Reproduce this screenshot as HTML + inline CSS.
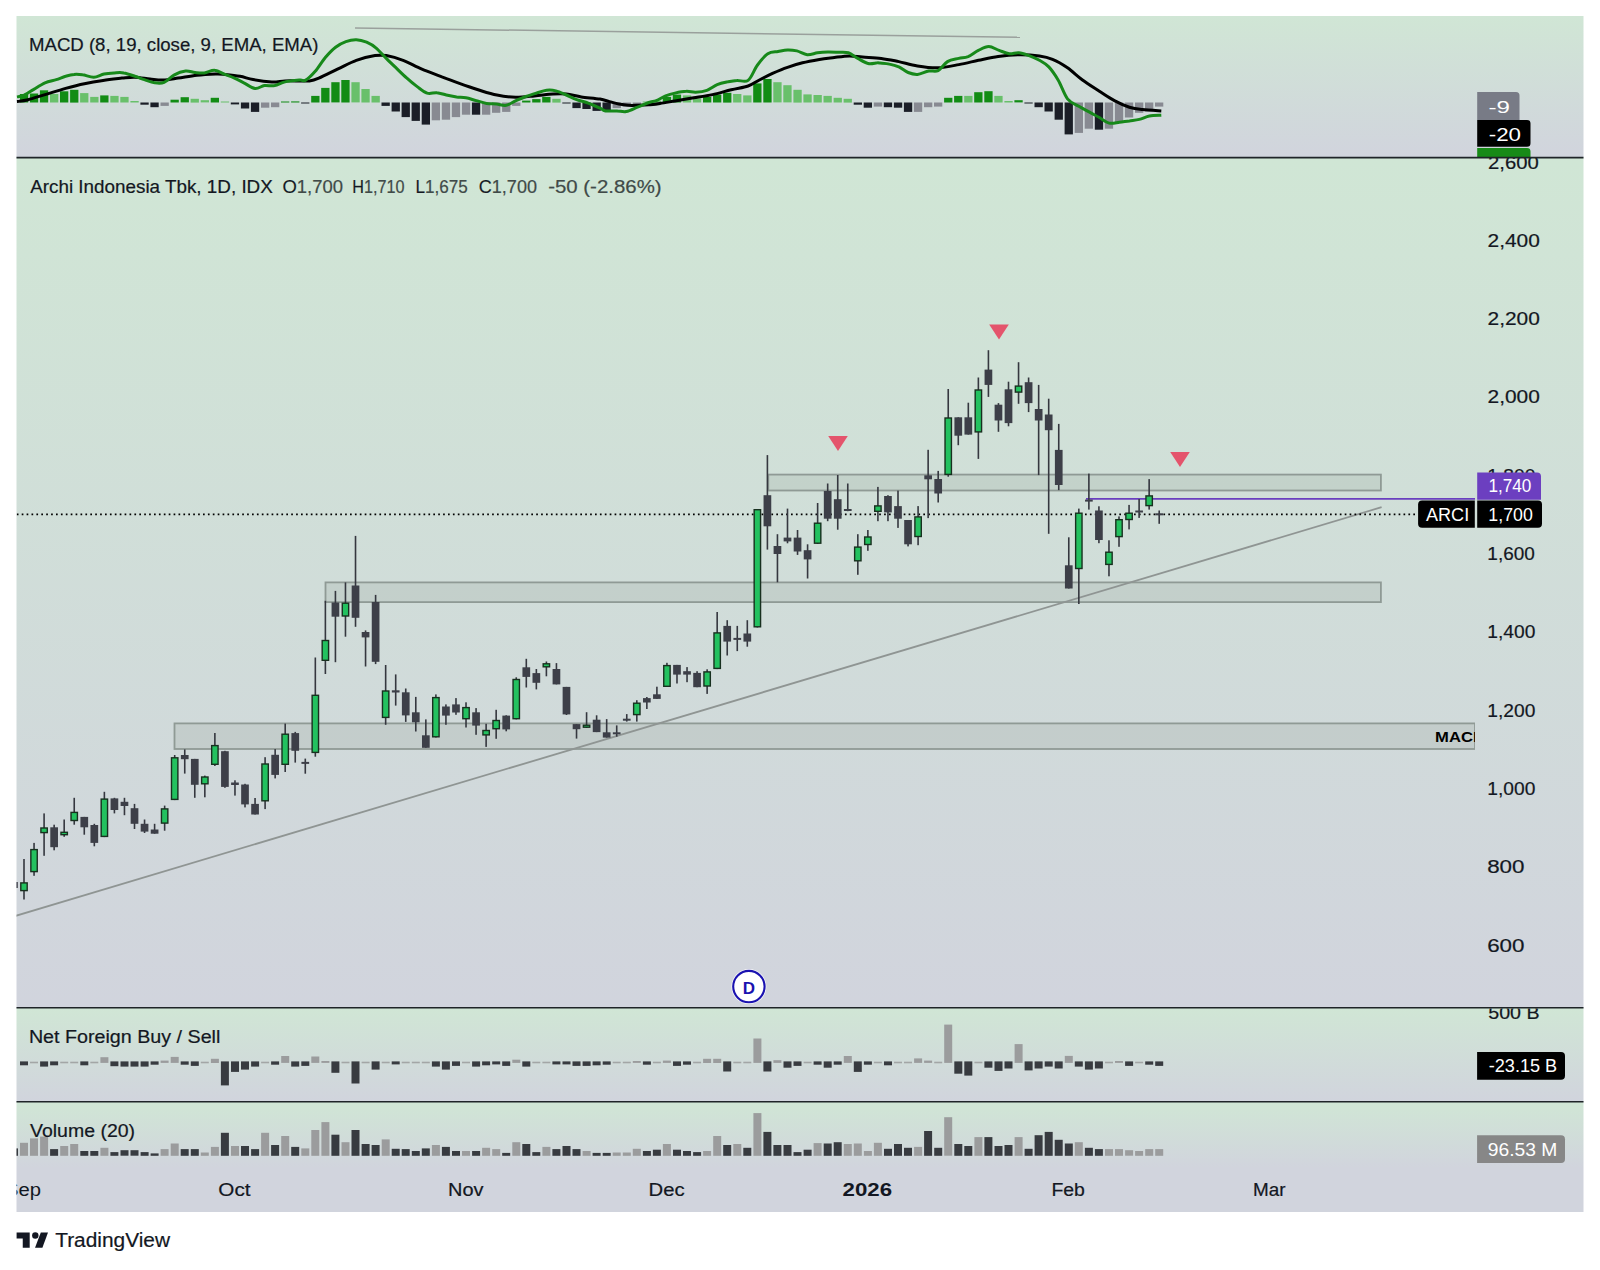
<!DOCTYPE html><html><head><meta charset="utf-8"><style>html,body{margin:0;padding:0;background:#fff;width:1600px;height:1270px;overflow:hidden}svg{display:block}</style></head><body>
<svg width="1600" height="1270" viewBox="0 0 1600 1270" font-family='"Liberation Sans", sans-serif'>
<defs>
<linearGradient id="gm" gradientUnits="userSpaceOnUse" x1="0" y1="16" x2="0" y2="157"><stop offset="0" stop-color="#d0e6d5"/><stop offset="1" stop-color="#d1d4dd"/></linearGradient>
<linearGradient id="gp" gradientUnits="userSpaceOnUse" x1="0" y1="157" x2="0" y2="1008"><stop offset="0" stop-color="#d0e6d5"/><stop offset="1" stop-color="#d1d4dd"/></linearGradient>
<linearGradient id="gn" gradientUnits="userSpaceOnUse" x1="0" y1="1008" x2="0" y2="1102"><stop offset="0" stop-color="#d0e6d5"/><stop offset="1" stop-color="#d1d4dd"/></linearGradient>
<linearGradient id="gv" gradientUnits="userSpaceOnUse" x1="0" y1="1102" x2="0" y2="1168"><stop offset="0" stop-color="#d0e6d5"/><stop offset="1" stop-color="#d1d4dd"/></linearGradient>
<clipPath id="cm"><rect x="16.5" y="16" width="1458.5" height="141"/></clipPath>
<clipPath id="cp"><rect x="16.5" y="157" width="1458.5" height="851"/></clipPath>
<clipPath id="cn"><rect x="16.5" y="1008" width="1458.5" height="94"/></clipPath>
<clipPath id="cv"><rect x="16.5" y="1102" width="1458.5" height="66"/></clipPath>
<clipPath id="cpa"><rect x="16.5" y="157" width="1567.0" height="851"/></clipPath>
</defs>
<rect x="16.5" y="16" width="1567.0" height="141" fill="url(#gm)"/>
<rect x="16.5" y="157" width="1567.0" height="851" fill="url(#gp)"/>
<rect x="16.5" y="1008" width="1567.0" height="94" fill="url(#gn)"/>
<rect x="16.5" y="1102" width="1567.0" height="66" fill="url(#gv)"/>
<rect x="16.5" y="1168" width="1567.0" height="44" fill="#d1d4dd"/>
<g clip-path="url(#cm)">
<line x1="355" y1="28" x2="1020" y2="37.2" stroke="#9aa09c" stroke-width="1.5"/>
<rect x="19.9" y="94.0" width="8.3" height="8.5" fill="#128c14"/>
<rect x="29.9" y="93.5" width="8.3" height="9.0" fill="#128c14"/>
<rect x="39.9" y="90.3" width="8.3" height="12.2" fill="#128c14"/>
<rect x="50.0" y="94.0" width="8.3" height="8.5" fill="#69c06b"/>
<rect x="60.0" y="91.3" width="8.3" height="11.2" fill="#128c14"/>
<rect x="70.1" y="89.8" width="8.3" height="12.8" fill="#128c14"/>
<rect x="80.1" y="93.1" width="8.3" height="9.4" fill="#69c06b"/>
<rect x="90.2" y="96.9" width="8.3" height="5.6" fill="#69c06b"/>
<rect x="100.2" y="95.4" width="8.3" height="7.1" fill="#128c14"/>
<rect x="110.3" y="95.9" width="8.3" height="6.6" fill="#69c06b"/>
<rect x="120.3" y="96.9" width="8.3" height="5.6" fill="#69c06b"/>
<rect x="130.4" y="101.0" width="8.3" height="1.5" fill="#69c06b"/>
<rect x="140.4" y="102.5" width="8.3" height="2.2" fill="#1b1e27"/>
<rect x="150.4" y="102.5" width="8.3" height="4.7" fill="#1b1e27"/>
<rect x="160.5" y="102.5" width="8.3" height="3.4" fill="#888a92"/>
<rect x="170.5" y="99.7" width="8.3" height="2.8" fill="#128c14"/>
<rect x="180.6" y="97.2" width="8.3" height="5.2" fill="#128c14"/>
<rect x="190.6" y="98.8" width="8.3" height="3.8" fill="#69c06b"/>
<rect x="200.7" y="100.2" width="8.3" height="2.2" fill="#69c06b"/>
<rect x="210.7" y="97.8" width="8.3" height="4.7" fill="#128c14"/>
<rect x="220.8" y="101.5" width="8.3" height="1.0" fill="#69c06b"/>
<rect x="230.8" y="102.5" width="8.3" height="1.9" fill="#1b1e27"/>
<rect x="240.9" y="102.5" width="8.3" height="6.0" fill="#1b1e27"/>
<rect x="250.9" y="102.5" width="8.3" height="9.4" fill="#1b1e27"/>
<rect x="261.0" y="102.5" width="8.3" height="5.2" fill="#888a92"/>
<rect x="271.0" y="102.5" width="8.3" height="4.7" fill="#888a92"/>
<rect x="281.0" y="101.5" width="8.3" height="1.0" fill="#128c14"/>
<rect x="291.1" y="101.4" width="8.3" height="1.1" fill="#128c14"/>
<rect x="301.1" y="102.5" width="8.3" height="1.0" fill="#1b1e27"/>
<rect x="311.2" y="95.9" width="8.3" height="6.6" fill="#128c14"/>
<rect x="321.2" y="87.9" width="8.3" height="14.6" fill="#128c14"/>
<rect x="331.3" y="82.2" width="8.3" height="20.2" fill="#128c14"/>
<rect x="341.3" y="80.0" width="8.3" height="22.5" fill="#128c14"/>
<rect x="351.4" y="82.2" width="8.3" height="20.2" fill="#69c06b"/>
<rect x="361.4" y="89.0" width="8.3" height="13.5" fill="#69c06b"/>
<rect x="371.5" y="95.9" width="8.3" height="6.6" fill="#69c06b"/>
<rect x="381.5" y="102.5" width="8.3" height="3.4" fill="#1b1e27"/>
<rect x="391.6" y="102.5" width="8.3" height="9.0" fill="#1b1e27"/>
<rect x="401.6" y="102.5" width="8.3" height="14.6" fill="#1b1e27"/>
<rect x="411.6" y="102.5" width="8.3" height="18.4" fill="#1b1e27"/>
<rect x="421.7" y="102.5" width="8.3" height="22.1" fill="#1b1e27"/>
<rect x="431.7" y="102.5" width="8.3" height="17.8" fill="#888a92"/>
<rect x="441.8" y="102.5" width="8.3" height="17.2" fill="#888a92"/>
<rect x="451.8" y="102.5" width="8.3" height="14.6" fill="#888a92"/>
<rect x="461.9" y="102.5" width="8.3" height="12.2" fill="#888a92"/>
<rect x="471.9" y="102.5" width="8.3" height="12.2" fill="#1b1e27"/>
<rect x="482.0" y="102.5" width="8.3" height="12.2" fill="#888a92"/>
<rect x="492.0" y="102.5" width="8.3" height="10.3" fill="#888a92"/>
<rect x="502.1" y="102.5" width="8.3" height="9.4" fill="#888a92"/>
<rect x="512.1" y="102.5" width="8.3" height="3.4" fill="#888a92"/>
<rect x="522.1" y="100.6" width="8.3" height="1.9" fill="#128c14"/>
<rect x="532.2" y="99.1" width="8.3" height="3.4" fill="#128c14"/>
<rect x="542.2" y="96.9" width="8.3" height="5.6" fill="#128c14"/>
<rect x="552.3" y="98.8" width="8.3" height="3.8" fill="#69c06b"/>
<rect x="562.3" y="102.5" width="8.3" height="1.0" fill="#1b1e27"/>
<rect x="572.4" y="102.5" width="8.3" height="5.6" fill="#1b1e27"/>
<rect x="582.4" y="102.5" width="8.3" height="6.5" fill="#1b1e27"/>
<rect x="592.5" y="102.5" width="8.3" height="8.4" fill="#1b1e27"/>
<rect x="602.5" y="102.5" width="8.3" height="8.5" fill="#1b1e27"/>
<rect x="612.6" y="102.5" width="8.3" height="5.6" fill="#888a92"/>
<rect x="622.6" y="102.5" width="8.3" height="4.1" fill="#888a92"/>
<rect x="632.7" y="102.5" width="8.3" height="2.8" fill="#888a92"/>
<rect x="642.7" y="101.5" width="8.3" height="1.0" fill="#69c06b"/>
<rect x="652.7" y="100.6" width="8.3" height="1.9" fill="#69c06b"/>
<rect x="662.8" y="96.9" width="8.3" height="5.6" fill="#128c14"/>
<rect x="672.8" y="94.6" width="8.3" height="7.9" fill="#128c14"/>
<rect x="682.9" y="95.4" width="8.3" height="7.1" fill="#69c06b"/>
<rect x="692.9" y="98.4" width="8.3" height="4.1" fill="#69c06b"/>
<rect x="703.0" y="96.9" width="8.3" height="5.6" fill="#128c14"/>
<rect x="713.0" y="94.6" width="8.3" height="7.9" fill="#128c14"/>
<rect x="723.1" y="92.8" width="8.3" height="9.8" fill="#128c14"/>
<rect x="733.1" y="94.0" width="8.3" height="8.5" fill="#69c06b"/>
<rect x="743.2" y="95.4" width="8.3" height="7.1" fill="#69c06b"/>
<rect x="753.2" y="83.4" width="8.3" height="19.1" fill="#128c14"/>
<rect x="763.3" y="79.0" width="8.3" height="23.5" fill="#128c14"/>
<rect x="773.3" y="82.2" width="8.3" height="20.2" fill="#69c06b"/>
<rect x="783.3" y="85.2" width="8.3" height="17.2" fill="#69c06b"/>
<rect x="793.4" y="89.8" width="8.3" height="12.8" fill="#69c06b"/>
<rect x="803.4" y="94.4" width="8.3" height="8.1" fill="#69c06b"/>
<rect x="813.5" y="95.0" width="8.3" height="7.5" fill="#69c06b"/>
<rect x="823.5" y="95.9" width="8.3" height="6.6" fill="#69c06b"/>
<rect x="833.6" y="97.8" width="8.3" height="4.7" fill="#69c06b"/>
<rect x="843.6" y="98.8" width="8.3" height="3.8" fill="#69c06b"/>
<rect x="853.7" y="102.5" width="8.3" height="2.2" fill="#1b1e27"/>
<rect x="863.7" y="102.5" width="8.3" height="5.2" fill="#1b1e27"/>
<rect x="873.8" y="102.5" width="8.3" height="4.1" fill="#888a92"/>
<rect x="883.8" y="102.5" width="8.3" height="4.7" fill="#1b1e27"/>
<rect x="893.9" y="102.5" width="8.3" height="5.2" fill="#1b1e27"/>
<rect x="903.9" y="102.5" width="8.3" height="9.4" fill="#1b1e27"/>
<rect x="913.9" y="102.5" width="8.3" height="9.4" fill="#888a92"/>
<rect x="924.0" y="102.5" width="8.3" height="4.7" fill="#888a92"/>
<rect x="934.0" y="102.5" width="8.3" height="4.1" fill="#888a92"/>
<rect x="944.1" y="97.8" width="8.3" height="4.7" fill="#128c14"/>
<rect x="954.1" y="95.9" width="8.3" height="6.6" fill="#128c14"/>
<rect x="964.2" y="95.9" width="8.3" height="6.6" fill="#69c06b"/>
<rect x="974.2" y="92.2" width="8.3" height="10.3" fill="#128c14"/>
<rect x="984.3" y="91.2" width="8.3" height="11.2" fill="#128c14"/>
<rect x="994.3" y="95.9" width="8.3" height="6.6" fill="#69c06b"/>
<rect x="1004.4" y="101.0" width="8.3" height="1.5" fill="#69c06b"/>
<rect x="1014.4" y="100.2" width="8.3" height="2.2" fill="#128c14"/>
<rect x="1024.4" y="102.5" width="8.3" height="1.0" fill="#1b1e27"/>
<rect x="1034.5" y="102.5" width="8.3" height="4.7" fill="#1b1e27"/>
<rect x="1044.5" y="102.5" width="8.3" height="9.0" fill="#1b1e27"/>
<rect x="1054.6" y="102.5" width="8.3" height="17.2" fill="#1b1e27"/>
<rect x="1064.6" y="102.5" width="8.3" height="31.9" fill="#1b1e27"/>
<rect x="1074.7" y="102.5" width="8.3" height="30.4" fill="#888a92"/>
<rect x="1084.7" y="102.5" width="8.3" height="26.2" fill="#888a92"/>
<rect x="1094.8" y="102.5" width="8.3" height="27.2" fill="#1b1e27"/>
<rect x="1104.8" y="102.5" width="8.3" height="26.2" fill="#888a92"/>
<rect x="1114.9" y="102.5" width="8.3" height="19.7" fill="#888a92"/>
<rect x="1124.9" y="102.5" width="8.3" height="15.0" fill="#888a92"/>
<rect x="1135.0" y="102.5" width="8.3" height="10.3" fill="#888a92"/>
<rect x="1145.0" y="102.5" width="8.3" height="9.0" fill="#888a92"/>
<rect x="1155.0" y="102.5" width="8.3" height="4.1" fill="#888a92"/>
<path d="M16.9,101.6 C18.8,101.3 23.1,100.9 28.1,99.7 C33.1,98.4 40.6,95.9 46.9,94.1 C53.1,92.2 59.4,90.2 65.6,88.4 C71.9,86.7 78.1,85.1 84.4,83.8 C90.6,82.4 96.9,81.3 103.1,80.4 C109.4,79.4 116.6,78.7 121.9,78.1 C127.2,77.6 130.3,77.0 135.0,77.2 C139.7,77.3 145.3,78.6 150.0,79.1 C154.7,79.5 158.4,80.2 163.1,80.0 C167.8,79.8 172.5,78.9 178.1,78.1 C183.8,77.3 190.6,76.0 196.9,75.3 C203.1,74.6 210.9,74.2 215.6,74.0 C220.3,73.8 220.9,74.0 225.0,74.4 C229.1,74.8 235.3,75.4 240.0,76.3 C244.7,77.1 247.8,78.7 253.1,79.6 C258.4,80.6 266.6,81.7 271.9,81.9 C277.2,82.1 280.3,81.1 285.0,80.9 C289.7,80.8 295.9,80.9 300.0,80.9 C304.1,80.9 306.3,81.4 309.4,80.9 C312.5,80.5 314.1,80.1 318.8,78.1 C323.4,76.2 331.3,72.1 337.5,69.1 C343.8,66.2 350.0,62.6 356.3,60.3 C362.5,58.1 370.0,56.4 375.0,55.6 C380.0,54.8 381.6,54.8 386.3,55.6 C390.9,56.4 397.2,58.1 403.1,60.3 C409.1,62.6 415.6,66.5 421.9,69.1 C428.1,71.8 434.4,73.9 440.6,76.3 C446.9,78.6 453.1,81.1 459.4,83.4 C465.6,85.6 471.9,87.8 478.1,89.8 C484.4,91.7 490.6,93.8 496.9,95.0 C503.1,96.3 509.4,97.1 515.6,97.3 C521.9,97.4 528.1,96.5 534.4,95.9 C540.6,95.4 547.8,94.4 553.1,94.1 C558.4,93.8 561.6,93.6 566.3,94.1 C570.9,94.5 575.6,96.0 581.3,96.9 C586.9,97.7 595.3,98.3 600.0,99.1 C604.7,99.9 606.3,100.8 609.4,101.6 C612.5,102.4 615.6,103.4 618.8,104.0 C621.9,104.6 625.0,105.1 628.1,105.3 C631.3,105.5 634.1,105.4 637.5,105.3 C640.9,105.2 645.0,105.1 648.8,104.8 C652.5,104.4 655.6,104.1 660.0,103.4 C664.4,102.8 669.4,101.9 675.0,101.0 C680.6,100.1 687.5,98.9 693.8,97.8 C700.0,96.8 706.3,96.0 712.5,94.6 C718.8,93.3 725.3,91.2 731.3,89.8 C737.2,88.3 743.4,87.6 748.1,86.0 C752.8,84.4 755.3,82.1 759.4,80.0 C763.4,77.9 767.8,75.6 772.5,73.4 C777.2,71.3 782.5,69.0 787.5,67.3 C792.5,65.5 797.2,64.1 802.5,62.8 C807.8,61.4 814.1,60.3 819.4,59.4 C824.7,58.5 829.4,58.1 834.4,57.5 C839.4,56.9 844.7,56.1 849.4,56.0 C854.1,55.9 857.2,56.7 862.5,57.1 C867.8,57.5 875.2,57.7 881.3,58.4 C887.3,59.2 892.7,60.4 898.8,61.6 C904.8,62.9 910.9,64.9 917.5,65.9 C924.1,67.0 931.3,68.0 938.1,67.8 C945.0,67.6 952.0,65.9 958.8,64.6 C965.5,63.4 971.9,61.7 978.4,60.3 C985.0,59.0 991.4,57.5 998.1,56.6 C1004.8,55.6 1011.9,54.8 1018.8,54.7 C1025.6,54.6 1033.8,55.2 1039.4,56.0 C1045.0,56.8 1047.8,57.4 1052.5,59.4 C1057.2,61.3 1062.5,64.4 1067.5,67.8 C1072.5,71.3 1077.2,76.1 1082.5,80.0 C1087.8,83.9 1094.1,87.8 1099.4,91.3 C1104.7,94.7 1109.4,98.0 1114.4,100.6 C1119.4,103.3 1124.7,105.7 1129.4,107.2 C1134.1,108.7 1137.2,109.0 1142.5,109.6 C1147.8,110.3 1158.1,110.7 1161.3,110.9" fill="none" stroke="#000" stroke-width="3" stroke-linejoin="round"/>
<path d="M16.9,96.9 C18.1,96.6 21.6,96.3 24.4,95.0 C27.2,93.8 30.3,91.4 33.8,89.4 C37.2,87.3 41.3,84.4 45.0,82.8 C48.8,81.2 52.8,80.7 56.3,79.6 C59.7,78.5 62.7,77.1 65.6,76.3 C68.6,75.4 71.3,74.6 74.1,74.4 C76.9,74.1 79.2,74.3 82.5,74.8 C85.8,75.2 90.2,77.3 93.8,77.2 C97.3,77.1 100.6,74.7 104.1,74.0 C107.5,73.3 111.1,73.1 114.4,72.9 C117.7,72.7 120.3,72.3 123.8,72.9 C127.2,73.4 131.6,75.1 135.0,76.3 C138.4,77.4 141.1,78.5 144.4,79.6 C147.7,80.7 151.4,82.3 154.7,82.8 C158.0,83.3 160.8,83.8 164.1,82.4 C167.3,81.1 170.8,76.7 174.4,74.8 C178.0,72.8 182.2,71.4 185.6,71.0 C189.1,70.6 191.9,72.2 195.0,72.5 C198.1,72.8 201.1,73.3 204.4,72.9 C207.7,72.5 211.3,70.0 214.7,70.3 C218.1,70.5 221.7,73.1 225.0,74.4 C228.3,75.7 231.3,76.7 234.4,78.1 C237.5,79.5 240.3,81.1 243.8,82.8 C247.2,84.5 251.6,88.0 255.0,88.4 C258.4,88.9 261.1,86.1 264.4,85.6 C267.7,85.2 271.3,86.3 274.7,85.6 C278.1,85.0 280.8,82.8 285.0,81.9 C289.2,80.9 296.6,80.3 300.0,80.0 C303.4,79.8 302.8,81.8 305.3,80.4 C307.8,79.0 311.7,75.4 315.0,71.6 C318.3,67.8 321.9,61.6 325.3,57.5 C328.8,53.4 332.2,49.8 335.6,47.2 C339.1,44.5 342.5,42.8 345.9,41.6 C349.4,40.3 352.8,39.6 356.3,39.7 C359.7,39.8 363.3,40.8 366.6,42.1 C369.8,43.5 372.7,45.0 375.9,47.8 C379.2,50.5 382.8,55.0 386.3,58.4 C389.7,61.9 393.1,65.1 396.6,68.4 C400.0,71.7 403.4,75.1 406.9,78.1 C410.3,81.2 413.8,84.1 417.2,86.6 C420.6,89.1 423.8,92.1 427.1,93.1 C430.4,94.2 433.7,92.4 436.9,92.8 C440.1,93.1 443.0,94.3 446.3,95.0 C449.5,95.7 453.3,96.4 456.6,96.9 C459.8,97.3 462.7,97.2 465.9,97.8 C469.2,98.4 472.8,99.7 476.3,100.6 C479.7,101.6 483.2,102.9 486.6,103.4 C489.9,104.0 493.2,103.7 496.5,104.0 C499.8,104.3 503.0,105.9 506.3,105.3 C509.5,104.8 512.7,102.1 516.0,100.6 C519.3,99.2 522.6,97.8 525.9,96.5 C529.3,95.3 532.8,94.2 536.3,93.1 C539.7,92.1 543.3,90.7 546.6,90.3 C549.8,89.9 552.7,90.1 555.9,90.9 C559.2,91.7 562.8,93.5 566.3,95.0 C569.7,96.5 573.2,98.4 576.6,99.7 C579.9,100.9 582.6,101.1 586.5,102.5 C590.4,103.9 596.8,106.7 600.0,108.1 C603.2,109.5 602.8,110.5 605.6,110.9 C608.4,111.4 613.4,110.8 616.9,110.9 C620.3,111.0 622.8,112.1 626.3,111.5 C629.7,110.9 633.8,108.7 637.5,107.2 C641.3,105.7 645.6,103.6 648.8,102.5 C651.9,101.4 653.4,101.7 656.3,100.6 C659.1,99.5 662.5,97.2 665.6,95.9 C668.8,94.7 671.6,93.9 675.0,93.1 C678.4,92.3 682.8,91.4 686.3,91.3 C689.7,91.1 692.2,92.3 695.6,92.2 C699.1,92.0 703.3,91.6 706.9,90.3 C710.5,89.1 713.8,86.1 717.2,84.7 C720.6,83.3 724.2,82.6 727.5,81.9 C730.8,81.2 733.4,80.6 736.9,80.4 C740.3,80.1 744.7,82.9 748.1,80.4 C751.6,77.8 754.2,69.4 757.5,65.0 C760.8,60.6 764.4,56.0 767.8,53.8 C771.3,51.5 774.8,52.1 778.1,51.5 C781.4,50.9 784.4,50.1 787.5,50.0 C790.6,49.9 793.6,50.2 796.9,50.9 C800.2,51.7 803.8,54.4 807.2,54.7 C810.6,55.0 814.1,53.3 817.5,52.8 C820.9,52.3 824.4,52.0 827.8,51.9 C831.3,51.8 834.7,52.1 838.1,52.3 C841.6,52.4 845.2,51.8 848.4,52.8 C851.7,53.8 854.5,56.7 857.8,58.4 C861.1,60.2 864.8,62.8 868.1,63.5 C871.4,64.2 875.5,62.8 877.5,62.8 C879.5,62.7 878.0,62.9 880.0,63.1 C882.0,63.3 886.3,63.4 889.4,64.1 C892.5,64.7 895.6,65.5 898.8,66.9 C901.9,68.3 905.0,71.3 908.1,72.5 C911.3,73.8 914.1,74.6 917.5,74.4 C920.9,74.1 925.3,71.6 928.8,71.0 C932.2,70.4 935.0,72.2 938.1,70.6 C941.3,69.1 944.1,63.7 947.5,61.6 C950.9,59.6 955.3,59.3 958.8,58.4 C962.2,57.6 964.8,57.9 968.1,56.6 C971.4,55.2 975.0,52.0 978.4,50.4 C981.9,48.7 985.3,46.6 988.8,46.6 C992.2,46.6 995.6,49.2 999.1,50.4 C1002.5,51.6 1006.1,53.3 1009.4,53.8 C1012.7,54.2 1015.5,52.5 1018.8,52.8 C1022.0,53.1 1025.6,54.4 1029.1,55.6 C1032.5,56.9 1036.1,58.4 1039.4,60.3 C1042.7,62.2 1045.6,63.6 1048.8,66.9 C1051.9,70.2 1055.0,74.7 1058.1,80.0 C1061.3,85.3 1064.1,94.4 1067.5,98.8 C1070.9,103.1 1075.2,104.1 1078.8,106.3 C1082.3,108.4 1085.6,110.0 1089.1,111.9 C1092.5,113.8 1096.0,115.6 1099.4,117.5 C1102.7,119.4 1105.8,122.3 1109.1,123.1 C1112.5,123.9 1116.1,122.6 1119.4,122.2 C1122.8,121.8 1126.1,121.3 1129.4,120.9 C1132.7,120.4 1136.0,120.2 1139.3,119.4 C1142.7,118.6 1145.8,116.7 1149.4,116.0 C1153.1,115.3 1159.3,115.4 1161.3,115.3" fill="none" stroke="#17891a" stroke-width="3" stroke-linejoin="round"/>
</g>
<text x="28.98" y="50.7" font-size="18.3" fill="#131722" stroke="#131722" stroke-width="0.2" textLength="289.50" lengthAdjust="spacingAndGlyphs">MACD (8, 19, close, 9, EMA, EMA)</text>
<g clip-path="url(#cp)">
<rect x="768.3" y="474.6" width="612.6" height="15.9" fill="rgba(105,120,112,0.13)" stroke="#8f9a95" stroke-width="1.8"/>
<rect x="325.5" y="582.4" width="1055.4" height="19.7" fill="rgba(105,120,112,0.13)" stroke="#8f9a95" stroke-width="1.8"/>
<rect x="174.5" y="723.4" width="1300.5" height="25.6" fill="rgba(105,120,112,0.13)" stroke="#8f9a95" stroke-width="1.8"/>
<svg x="0" y="0" width="1475" height="1008" overflow="hidden"><text x="1435.11" y="742.3" font-size="14.6" font-weight="bold" fill="#000" textLength="49.78" lengthAdjust="spacingAndGlyphs">MACD</text></svg>
<line x1="10" y1="917.5" x2="1381.6" y2="507.2" stroke="#8f9593" stroke-width="1.8"/>
<line x1="16.8" y1="514.4" x2="1418" y2="514.4" stroke="#000" stroke-width="1.7" stroke-dasharray="1.7 3.2"/>
<line x1="1086" y1="498.9" x2="1477" y2="498.9" stroke="#6a3fbf" stroke-width="1.7"/>
<rect x="13.15" y="880.0" width="1.6" height="10.0" fill="#35373f"/>
<rect x="10.10" y="882.0" width="7.7" height="6.0" fill="#3d3f48"/>
<rect x="23.20" y="859.0" width="1.6" height="40.5" fill="#35373f"/>
<rect x="20.10" y="882.2" width="7.8" height="9.1" fill="#18301f"/>
<rect x="21.50" y="883.6" width="5.0" height="6.3" fill="#23c15f"/>
<rect x="33.25" y="842.9" width="1.6" height="32.9" fill="#35373f"/>
<rect x="30.15" y="848.9" width="7.8" height="23.4" fill="#18301f"/>
<rect x="31.55" y="850.3" width="5.0" height="20.6" fill="#23c15f"/>
<rect x="43.29" y="813.4" width="1.6" height="42.4" fill="#35373f"/>
<rect x="40.19" y="827.3" width="7.8" height="6.0" fill="#18301f"/>
<rect x="41.59" y="828.7" width="5.0" height="3.2" fill="#23c15f"/>
<rect x="53.34" y="824.7" width="1.6" height="25.6" fill="#35373f"/>
<rect x="50.29" y="827.3" width="7.7" height="19.9" fill="#3d3f48"/>
<rect x="63.38" y="819.5" width="1.6" height="17.3" fill="#35373f"/>
<rect x="60.28" y="831.6" width="7.8" height="3.8" fill="#18301f"/>
<rect x="61.68" y="833.0" width="5.0" height="1.0" fill="#23c15f"/>
<rect x="73.43" y="797.8" width="1.6" height="26.9" fill="#35373f"/>
<rect x="70.33" y="811.7" width="7.8" height="9.5" fill="#18301f"/>
<rect x="71.73" y="813.1" width="5.0" height="6.7" fill="#23c15f"/>
<rect x="83.48" y="816.9" width="1.6" height="17.8" fill="#35373f"/>
<rect x="80.43" y="816.9" width="7.7" height="10.4" fill="#3d3f48"/>
<rect x="93.52" y="823.8" width="1.6" height="22.5" fill="#35373f"/>
<rect x="90.47" y="825.0" width="7.7" height="17.9" fill="#3d3f48"/>
<rect x="103.57" y="791.8" width="1.6" height="45.3" fill="#35373f"/>
<rect x="100.47" y="798.4" width="7.8" height="38.7" fill="#18301f"/>
<rect x="101.87" y="799.8" width="5.0" height="35.9" fill="#23c15f"/>
<rect x="113.61" y="797.8" width="1.6" height="15.6" fill="#35373f"/>
<rect x="110.56" y="798.4" width="7.7" height="11.6" fill="#3d3f48"/>
<rect x="123.66" y="797.8" width="1.6" height="17.4" fill="#35373f"/>
<rect x="120.61" y="801.8" width="7.7" height="4.2" fill="#3d3f48"/>
<rect x="133.71" y="803.9" width="1.6" height="25.1" fill="#35373f"/>
<rect x="130.66" y="808.2" width="7.7" height="15.6" fill="#3d3f48"/>
<rect x="143.75" y="819.5" width="1.6" height="13.5" fill="#35373f"/>
<rect x="140.70" y="823.8" width="7.7" height="7.8" fill="#3d3f48"/>
<rect x="153.80" y="823.8" width="1.6" height="9.9" fill="#35373f"/>
<rect x="150.75" y="829.5" width="7.7" height="4.2" fill="#3d3f48"/>
<rect x="163.84" y="805.6" width="1.6" height="25.1" fill="#35373f"/>
<rect x="160.74" y="808.2" width="7.8" height="15.6" fill="#18301f"/>
<rect x="162.14" y="809.6" width="5.0" height="12.8" fill="#23c15f"/>
<rect x="173.89" y="755.0" width="1.6" height="45.1" fill="#35373f"/>
<rect x="170.79" y="757.1" width="7.8" height="43.0" fill="#18301f"/>
<rect x="172.19" y="758.5" width="5.0" height="40.2" fill="#23c15f"/>
<rect x="183.94" y="749.4" width="1.6" height="24.2" fill="#35373f"/>
<rect x="180.89" y="755.0" width="7.7" height="4.2" fill="#3d3f48"/>
<rect x="193.98" y="758.9" width="1.6" height="38.9" fill="#35373f"/>
<rect x="190.93" y="758.9" width="7.7" height="25.9" fill="#3d3f48"/>
<rect x="204.03" y="775.6" width="1.6" height="21.7" fill="#35373f"/>
<rect x="200.93" y="776.3" width="7.8" height="8.2" fill="#18301f"/>
<rect x="202.33" y="777.7" width="5.0" height="5.4" fill="#23c15f"/>
<rect x="214.07" y="733.0" width="1.6" height="33.0" fill="#35373f"/>
<rect x="210.97" y="744.9" width="7.8" height="20.1" fill="#18301f"/>
<rect x="212.37" y="746.3" width="5.0" height="17.3" fill="#23c15f"/>
<rect x="224.12" y="750.8" width="1.6" height="37.0" fill="#35373f"/>
<rect x="221.07" y="751.2" width="7.7" height="35.7" fill="#3d3f48"/>
<rect x="234.17" y="780.3" width="1.6" height="15.3" fill="#35373f"/>
<rect x="231.12" y="782.5" width="7.7" height="2.5" fill="#3d3f48"/>
<rect x="244.21" y="783.8" width="1.6" height="23.6" fill="#35373f"/>
<rect x="241.16" y="784.5" width="7.7" height="19.9" fill="#3d3f48"/>
<rect x="254.26" y="798.0" width="1.6" height="16.5" fill="#35373f"/>
<rect x="251.21" y="803.9" width="7.7" height="10.6" fill="#3d3f48"/>
<rect x="264.30" y="757.2" width="1.6" height="51.9" fill="#35373f"/>
<rect x="261.20" y="763.3" width="7.8" height="38.2" fill="#18301f"/>
<rect x="262.60" y="764.7" width="5.0" height="35.4" fill="#23c15f"/>
<rect x="274.35" y="749.1" width="1.6" height="29.3" fill="#35373f"/>
<rect x="271.30" y="754.8" width="7.7" height="20.1" fill="#3d3f48"/>
<rect x="284.40" y="723.6" width="1.6" height="48.4" fill="#35373f"/>
<rect x="281.30" y="733.5" width="7.8" height="31.5" fill="#18301f"/>
<rect x="282.70" y="734.9" width="5.0" height="28.7" fill="#23c15f"/>
<rect x="294.44" y="731.9" width="1.6" height="30.7" fill="#35373f"/>
<rect x="291.39" y="733.1" width="7.7" height="17.7" fill="#3d3f48"/>
<rect x="304.49" y="758.6" width="1.6" height="15.1" fill="#35373f"/>
<rect x="301.44" y="761.9" width="7.7" height="2.0" fill="#3d3f48"/>
<rect x="314.53" y="657.5" width="1.6" height="99.2" fill="#35373f"/>
<rect x="311.43" y="694.6" width="7.8" height="58.5" fill="#18301f"/>
<rect x="312.83" y="696.0" width="5.0" height="55.7" fill="#23c15f"/>
<rect x="324.58" y="600.8" width="1.6" height="73.2" fill="#35373f"/>
<rect x="321.48" y="639.8" width="7.8" height="21.2" fill="#18301f"/>
<rect x="322.88" y="641.2" width="5.0" height="18.4" fill="#23c15f"/>
<rect x="334.63" y="590.9" width="1.6" height="71.3" fill="#35373f"/>
<rect x="331.58" y="602.5" width="7.7" height="14.2" fill="#3d3f48"/>
<rect x="344.67" y="582.4" width="1.6" height="54.3" fill="#35373f"/>
<rect x="341.57" y="602.5" width="7.8" height="14.2" fill="#18301f"/>
<rect x="342.97" y="603.9" width="5.0" height="11.4" fill="#23c15f"/>
<rect x="354.72" y="535.9" width="1.6" height="90.9" fill="#35373f"/>
<rect x="351.67" y="585.5" width="7.7" height="32.3" fill="#3d3f48"/>
<rect x="364.76" y="630.4" width="1.6" height="36.1" fill="#35373f"/>
<rect x="361.71" y="632.0" width="7.7" height="5.4" fill="#3d3f48"/>
<rect x="374.81" y="594.9" width="1.6" height="69.2" fill="#35373f"/>
<rect x="371.76" y="602.0" width="7.7" height="59.8" fill="#3d3f48"/>
<rect x="384.86" y="665.0" width="1.6" height="59.8" fill="#35373f"/>
<rect x="381.76" y="690.3" width="7.8" height="27.8" fill="#18301f"/>
<rect x="383.16" y="691.7" width="5.0" height="25.0" fill="#23c15f"/>
<rect x="394.90" y="674.4" width="1.6" height="31.2" fill="#35373f"/>
<rect x="391.85" y="690.3" width="7.7" height="2.2" fill="#3d3f48"/>
<rect x="404.95" y="688.5" width="1.6" height="33.4" fill="#35373f"/>
<rect x="401.90" y="692.3" width="7.7" height="23.1" fill="#3d3f48"/>
<rect x="414.99" y="696.9" width="1.6" height="34.6" fill="#35373f"/>
<rect x="411.94" y="712.3" width="7.7" height="10.0" fill="#3d3f48"/>
<rect x="425.04" y="719.4" width="1.6" height="28.4" fill="#35373f"/>
<rect x="421.99" y="735.3" width="7.7" height="12.5" fill="#3d3f48"/>
<rect x="435.09" y="694.4" width="1.6" height="43.1" fill="#35373f"/>
<rect x="431.99" y="696.9" width="7.8" height="40.6" fill="#18301f"/>
<rect x="433.39" y="698.3" width="5.0" height="37.8" fill="#23c15f"/>
<rect x="445.13" y="704.4" width="1.6" height="20.4" fill="#35373f"/>
<rect x="442.08" y="706.5" width="7.7" height="9.1" fill="#3d3f48"/>
<rect x="455.18" y="698.1" width="1.6" height="16.7" fill="#35373f"/>
<rect x="452.13" y="704.4" width="7.7" height="8.1" fill="#3d3f48"/>
<rect x="465.22" y="702.3" width="1.6" height="25.2" fill="#35373f"/>
<rect x="462.12" y="706.9" width="7.8" height="12.5" fill="#18301f"/>
<rect x="463.52" y="708.3" width="5.0" height="9.7" fill="#23c15f"/>
<rect x="475.27" y="708.1" width="1.6" height="26.7" fill="#35373f"/>
<rect x="472.22" y="712.3" width="7.7" height="13.3" fill="#3d3f48"/>
<rect x="485.32" y="723.8" width="1.6" height="23.1" fill="#35373f"/>
<rect x="482.22" y="729.8" width="7.8" height="5.8" fill="#18301f"/>
<rect x="483.62" y="731.2" width="5.0" height="3.0" fill="#23c15f"/>
<rect x="495.36" y="709.8" width="1.6" height="29.0" fill="#35373f"/>
<rect x="492.26" y="719.8" width="7.8" height="9.6" fill="#18301f"/>
<rect x="493.66" y="721.2" width="5.0" height="6.8" fill="#23c15f"/>
<rect x="505.41" y="715.3" width="1.6" height="16.0" fill="#35373f"/>
<rect x="502.36" y="715.6" width="7.7" height="13.8" fill="#3d3f48"/>
<rect x="515.45" y="677.3" width="1.6" height="42.1" fill="#35373f"/>
<rect x="512.35" y="678.8" width="7.8" height="40.6" fill="#18301f"/>
<rect x="513.75" y="680.2" width="5.0" height="37.8" fill="#23c15f"/>
<rect x="525.50" y="658.8" width="1.6" height="28.7" fill="#35373f"/>
<rect x="522.45" y="667.3" width="7.7" height="9.6" fill="#3d3f48"/>
<rect x="535.55" y="669.0" width="1.6" height="20.4" fill="#35373f"/>
<rect x="532.50" y="673.1" width="7.7" height="9.7" fill="#3d3f48"/>
<rect x="545.59" y="661.5" width="1.6" height="14.8" fill="#35373f"/>
<rect x="542.49" y="663.1" width="7.8" height="4.4" fill="#18301f"/>
<rect x="543.89" y="664.5" width="5.0" height="1.6" fill="#23c15f"/>
<rect x="555.64" y="663.1" width="1.6" height="21.3" fill="#35373f"/>
<rect x="552.59" y="669.0" width="7.7" height="15.4" fill="#3d3f48"/>
<rect x="565.68" y="686.9" width="1.6" height="28.1" fill="#35373f"/>
<rect x="562.63" y="686.9" width="7.7" height="27.5" fill="#3d3f48"/>
<rect x="575.73" y="724.1" width="1.6" height="14.5" fill="#35373f"/>
<rect x="572.68" y="724.1" width="7.7" height="5.1" fill="#3d3f48"/>
<rect x="585.78" y="712.2" width="1.6" height="15.7" fill="#35373f"/>
<rect x="582.68" y="724.5" width="7.8" height="3.4" fill="#18301f"/>
<rect x="584.08" y="725.9" width="5.0" height="0.6" fill="#23c15f"/>
<rect x="595.82" y="715.3" width="1.6" height="16.8" fill="#35373f"/>
<rect x="592.77" y="719.7" width="7.7" height="12.4" fill="#3d3f48"/>
<rect x="605.87" y="719.1" width="1.6" height="18.5" fill="#35373f"/>
<rect x="602.82" y="732.3" width="7.7" height="5.3" fill="#3d3f48"/>
<rect x="615.91" y="725.4" width="1.6" height="11.3" fill="#35373f"/>
<rect x="612.86" y="732.3" width="7.7" height="2.0" fill="#3d3f48"/>
<rect x="625.96" y="714.1" width="1.6" height="7.5" fill="#35373f"/>
<rect x="622.91" y="718.7" width="7.7" height="2.0" fill="#3d3f48"/>
<rect x="636.01" y="700.2" width="1.6" height="21.4" fill="#35373f"/>
<rect x="632.91" y="702.5" width="7.8" height="12.8" fill="#18301f"/>
<rect x="634.31" y="703.9" width="5.0" height="10.0" fill="#23c15f"/>
<rect x="646.05" y="697.0" width="1.6" height="12.0" fill="#35373f"/>
<rect x="643.00" y="698.1" width="7.7" height="4.4" fill="#3d3f48"/>
<rect x="656.10" y="686.7" width="1.6" height="12.2" fill="#35373f"/>
<rect x="653.05" y="694.3" width="7.7" height="4.6" fill="#3d3f48"/>
<rect x="666.14" y="662.8" width="1.6" height="24.2" fill="#35373f"/>
<rect x="663.04" y="664.9" width="7.8" height="22.1" fill="#18301f"/>
<rect x="664.44" y="666.3" width="5.0" height="19.3" fill="#23c15f"/>
<rect x="676.19" y="664.9" width="1.6" height="18.6" fill="#35373f"/>
<rect x="673.14" y="664.9" width="7.7" height="9.7" fill="#3d3f48"/>
<rect x="686.24" y="667.1" width="1.6" height="15.1" fill="#35373f"/>
<rect x="683.19" y="671.2" width="7.7" height="3.4" fill="#3d3f48"/>
<rect x="696.28" y="671.2" width="1.6" height="16.0" fill="#35373f"/>
<rect x="693.23" y="672.9" width="7.7" height="14.3" fill="#3d3f48"/>
<rect x="706.33" y="669.3" width="1.6" height="24.6" fill="#35373f"/>
<rect x="703.23" y="671.2" width="7.8" height="15.5" fill="#18301f"/>
<rect x="704.63" y="672.6" width="5.0" height="12.7" fill="#23c15f"/>
<rect x="716.37" y="612.0" width="1.6" height="57.1" fill="#35373f"/>
<rect x="713.27" y="632.2" width="7.8" height="36.9" fill="#18301f"/>
<rect x="714.67" y="633.6" width="5.0" height="34.1" fill="#23c15f"/>
<rect x="726.42" y="620.2" width="1.6" height="35.3" fill="#35373f"/>
<rect x="723.37" y="625.9" width="7.7" height="15.7" fill="#3d3f48"/>
<rect x="736.47" y="625.9" width="1.6" height="25.2" fill="#35373f"/>
<rect x="733.42" y="637.9" width="7.7" height="2.0" fill="#3d3f48"/>
<rect x="746.51" y="620.2" width="1.6" height="26.5" fill="#35373f"/>
<rect x="743.46" y="633.5" width="7.7" height="8.1" fill="#3d3f48"/>
<rect x="756.56" y="509.0" width="1.6" height="118.5" fill="#35373f"/>
<rect x="753.46" y="509.0" width="7.8" height="118.5" fill="#18301f"/>
<rect x="754.86" y="510.4" width="5.0" height="115.7" fill="#23c15f"/>
<rect x="766.60" y="455.1" width="1.6" height="94.5" fill="#35373f"/>
<rect x="763.55" y="495.2" width="7.7" height="31.1" fill="#3d3f48"/>
<rect x="776.65" y="534.2" width="1.6" height="48.1" fill="#35373f"/>
<rect x="773.60" y="546.0" width="7.7" height="8.0" fill="#3d3f48"/>
<rect x="786.70" y="508.6" width="1.6" height="34.7" fill="#35373f"/>
<rect x="783.65" y="537.6" width="7.7" height="3.8" fill="#3d3f48"/>
<rect x="796.74" y="530.0" width="1.6" height="24.9" fill="#35373f"/>
<rect x="793.69" y="537.6" width="7.7" height="13.9" fill="#3d3f48"/>
<rect x="806.79" y="544.3" width="1.6" height="34.2" fill="#35373f"/>
<rect x="803.74" y="550.2" width="7.7" height="9.2" fill="#3d3f48"/>
<rect x="816.83" y="503.0" width="1.6" height="40.9" fill="#35373f"/>
<rect x="813.73" y="522.5" width="7.8" height="21.4" fill="#18301f"/>
<rect x="815.13" y="523.9" width="5.0" height="18.6" fill="#23c15f"/>
<rect x="826.88" y="483.5" width="1.6" height="37.7" fill="#35373f"/>
<rect x="823.83" y="491.0" width="7.7" height="27.7" fill="#3d3f48"/>
<rect x="836.93" y="475.0" width="1.6" height="54.7" fill="#35373f"/>
<rect x="833.88" y="499.2" width="7.7" height="19.5" fill="#3d3f48"/>
<rect x="846.97" y="483.5" width="1.6" height="27.7" fill="#35373f"/>
<rect x="843.92" y="509.0" width="7.7" height="2.0" fill="#3d3f48"/>
<rect x="857.02" y="534.2" width="1.6" height="40.6" fill="#35373f"/>
<rect x="853.92" y="546.4" width="7.8" height="15.1" fill="#18301f"/>
<rect x="855.32" y="547.8" width="5.0" height="12.3" fill="#23c15f"/>
<rect x="867.06" y="530.0" width="1.6" height="20.8" fill="#35373f"/>
<rect x="863.96" y="536.3" width="7.8" height="8.9" fill="#18301f"/>
<rect x="865.36" y="537.7" width="5.0" height="6.1" fill="#23c15f"/>
<rect x="877.11" y="486.9" width="1.6" height="34.3" fill="#35373f"/>
<rect x="874.01" y="505.2" width="7.8" height="6.8" fill="#18301f"/>
<rect x="875.41" y="506.6" width="5.0" height="4.0" fill="#23c15f"/>
<rect x="887.16" y="495.2" width="1.6" height="26.0" fill="#35373f"/>
<rect x="884.11" y="496.0" width="7.7" height="16.4" fill="#3d3f48"/>
<rect x="897.20" y="490.6" width="1.6" height="37.3" fill="#35373f"/>
<rect x="894.15" y="506.1" width="7.7" height="12.6" fill="#3d3f48"/>
<rect x="907.25" y="520.0" width="1.6" height="26.4" fill="#35373f"/>
<rect x="904.20" y="520.0" width="7.7" height="24.3" fill="#3d3f48"/>
<rect x="917.29" y="506.1" width="1.6" height="39.1" fill="#35373f"/>
<rect x="914.19" y="516.2" width="7.8" height="21.0" fill="#18301f"/>
<rect x="915.59" y="517.6" width="5.0" height="18.2" fill="#23c15f"/>
<rect x="927.34" y="449.8" width="1.6" height="68.3" fill="#35373f"/>
<rect x="924.29" y="475.3" width="7.7" height="4.0" fill="#3d3f48"/>
<rect x="937.39" y="470.9" width="1.6" height="31.6" fill="#35373f"/>
<rect x="934.34" y="479.0" width="7.7" height="14.5" fill="#3d3f48"/>
<rect x="947.43" y="389.0" width="1.6" height="87.7" fill="#35373f"/>
<rect x="944.33" y="417.3" width="7.8" height="57.8" fill="#18301f"/>
<rect x="945.73" y="418.7" width="5.0" height="55.0" fill="#23c15f"/>
<rect x="957.48" y="417.3" width="1.6" height="27.9" fill="#35373f"/>
<rect x="954.43" y="417.3" width="7.7" height="18.4" fill="#3d3f48"/>
<rect x="967.52" y="402.7" width="1.6" height="31.9" fill="#35373f"/>
<rect x="964.47" y="417.3" width="7.7" height="17.3" fill="#3d3f48"/>
<rect x="977.57" y="377.5" width="1.6" height="81.4" fill="#35373f"/>
<rect x="974.47" y="389.3" width="7.8" height="43.3" fill="#18301f"/>
<rect x="975.87" y="390.7" width="5.0" height="40.5" fill="#23c15f"/>
<rect x="987.62" y="350.2" width="1.6" height="46.7" fill="#35373f"/>
<rect x="984.57" y="369.6" width="7.7" height="15.3" fill="#3d3f48"/>
<rect x="997.66" y="403.1" width="1.6" height="28.7" fill="#35373f"/>
<rect x="994.61" y="404.7" width="7.7" height="15.8" fill="#3d3f48"/>
<rect x="1007.71" y="381.7" width="1.6" height="44.6" fill="#35373f"/>
<rect x="1004.66" y="389.3" width="7.7" height="33.8" fill="#3d3f48"/>
<rect x="1017.75" y="362.2" width="1.6" height="41.6" fill="#35373f"/>
<rect x="1014.65" y="385.4" width="7.8" height="7.4" fill="#18301f"/>
<rect x="1016.05" y="386.8" width="5.0" height="4.6" fill="#23c15f"/>
<rect x="1027.80" y="377.5" width="1.6" height="34.6" fill="#35373f"/>
<rect x="1024.75" y="382.2" width="7.7" height="20.9" fill="#3d3f48"/>
<rect x="1037.85" y="384.9" width="1.6" height="90.2" fill="#35373f"/>
<rect x="1034.80" y="409.0" width="7.7" height="11.5" fill="#3d3f48"/>
<rect x="1047.89" y="398.7" width="1.6" height="135.1" fill="#35373f"/>
<rect x="1044.84" y="414.5" width="7.7" height="15.7" fill="#3d3f48"/>
<rect x="1057.94" y="423.9" width="1.6" height="66.2" fill="#35373f"/>
<rect x="1054.89" y="449.9" width="7.7" height="35.1" fill="#3d3f48"/>
<rect x="1067.98" y="537.3" width="1.6" height="51.2" fill="#35373f"/>
<rect x="1064.93" y="565.3" width="7.7" height="23.2" fill="#3d3f48"/>
<rect x="1078.03" y="508.6" width="1.6" height="95.4" fill="#35373f"/>
<rect x="1074.93" y="512.5" width="7.8" height="56.7" fill="#18301f"/>
<rect x="1076.33" y="513.9" width="5.0" height="53.9" fill="#23c15f"/>
<rect x="1088.08" y="473.6" width="1.6" height="36.0" fill="#35373f"/>
<rect x="1085.03" y="499.6" width="7.7" height="2.0" fill="#3d3f48"/>
<rect x="1098.12" y="506.3" width="1.6" height="36.9" fill="#35373f"/>
<rect x="1095.07" y="510.5" width="7.7" height="29.5" fill="#3d3f48"/>
<rect x="1108.17" y="540.3" width="1.6" height="36.0" fill="#35373f"/>
<rect x="1105.07" y="551.5" width="7.8" height="13.6" fill="#18301f"/>
<rect x="1106.47" y="552.9" width="5.0" height="10.8" fill="#23c15f"/>
<rect x="1118.21" y="516.4" width="1.6" height="30.4" fill="#35373f"/>
<rect x="1115.11" y="519.0" width="7.8" height="18.3" fill="#18301f"/>
<rect x="1116.51" y="520.4" width="5.0" height="15.5" fill="#23c15f"/>
<rect x="1128.26" y="504.9" width="1.6" height="24.5" fill="#35373f"/>
<rect x="1125.16" y="512.5" width="7.8" height="7.7" fill="#18301f"/>
<rect x="1126.56" y="513.9" width="5.0" height="4.9" fill="#23c15f"/>
<rect x="1138.31" y="499.0" width="1.6" height="18.9" fill="#35373f"/>
<rect x="1135.26" y="510.5" width="7.7" height="2.0" fill="#3d3f48"/>
<rect x="1148.35" y="479.1" width="1.6" height="30.5" fill="#35373f"/>
<rect x="1145.25" y="495.2" width="7.8" height="11.1" fill="#18301f"/>
<rect x="1146.65" y="496.6" width="5.0" height="8.3" fill="#23c15f"/>
<rect x="1158.40" y="510.5" width="1.6" height="13.3" fill="#35373f"/>
<rect x="1155.35" y="513.3" width="7.7" height="2.0" fill="#3d3f48"/>
<path d="M828.2,436.0 L847.8,436.0 L838.0,451.0 Z" fill="#e4546c"/>
<path d="M989.2,324.5 L1008.8,324.5 L999.0,339.5 Z" fill="#e4546c"/>
<path d="M1170.2,452.0 L1189.8,452.0 L1180.0,467.0 Z" fill="#e4546c"/>
<circle cx="748.9" cy="986.6" r="17.5" fill="#fff" opacity="0.85"/>
<circle cx="748.9" cy="986.6" r="15.7" fill="#fff" stroke="#1a12b0" stroke-width="2.1"/>
<text x="748.9" y="993.9" font-size="17" font-weight="bold" fill="#1a12b0" text-anchor="middle">D</text>
</g>
<text x="30.20" y="193" font-size="18.3" fill="#131722" stroke="#131722" stroke-width="0.2" textLength="242.62" lengthAdjust="spacingAndGlyphs">Archi Indonesia Tbk, 1D, IDX</text>
<text x="282.49" y="193" font-size="18.3" fill="#404a48" stroke="#404a48" stroke-width="0.2" textLength="60.49" lengthAdjust="spacingAndGlyphs"><tspan fill="#131722">O</tspan>1,700</text>
<text x="352.31" y="193" font-size="18.3" fill="#404a48" stroke="#404a48" stroke-width="0.2" textLength="52.28" lengthAdjust="spacingAndGlyphs"><tspan fill="#131722">H</tspan>1,710</text>
<text x="415.56" y="193" font-size="18.3" fill="#404a48" stroke="#404a48" stroke-width="0.2" textLength="52.30" lengthAdjust="spacingAndGlyphs"><tspan fill="#131722">L</tspan>1,675</text>
<text x="478.81" y="193" font-size="18.3" fill="#404a48" stroke="#404a48" stroke-width="0.2" textLength="58.13" lengthAdjust="spacingAndGlyphs"><tspan fill="#131722">C</tspan>1,700</text>
<text x="548.18" y="193" font-size="18.3" fill="#404a48" stroke="#404a48" stroke-width="0.2" textLength="113.40" lengthAdjust="spacingAndGlyphs">-50 (-2.86%)</text>
<g clip-path="url(#cpa)">
<text x="1488.09" y="168.5" font-size="18.3" fill="#131722" stroke="#131722" stroke-width="0.2" textLength="50.74" lengthAdjust="spacingAndGlyphs">2,600</text>
<text x="1487.56" y="246.8" font-size="18.3" fill="#131722" stroke="#131722" stroke-width="0.2" textLength="52.30" lengthAdjust="spacingAndGlyphs">2,400</text>
<text x="1487.56" y="325.1" font-size="18.3" fill="#131722" stroke="#131722" stroke-width="0.2" textLength="52.30" lengthAdjust="spacingAndGlyphs">2,200</text>
<text x="1487.56" y="403.4" font-size="18.3" fill="#131722" stroke="#131722" stroke-width="0.2" textLength="52.30" lengthAdjust="spacingAndGlyphs">2,000</text>
<text x="1487.35" y="481.7" font-size="18.3" fill="#131722" stroke="#131722" stroke-width="0.2" textLength="48.04" lengthAdjust="spacingAndGlyphs">1,800</text>
<text x="1487.36" y="560.0" font-size="18.3" fill="#131722" stroke="#131722" stroke-width="0.2" textLength="47.41" lengthAdjust="spacingAndGlyphs">1,600</text>
<text x="1487.35" y="638.3" font-size="18.3" fill="#131722" stroke="#131722" stroke-width="0.2" textLength="48.04" lengthAdjust="spacingAndGlyphs">1,400</text>
<text x="1487.35" y="716.6" font-size="18.3" fill="#131722" stroke="#131722" stroke-width="0.2" textLength="48.04" lengthAdjust="spacingAndGlyphs">1,200</text>
<text x="1487.35" y="794.9" font-size="18.3" fill="#131722" stroke="#131722" stroke-width="0.2" textLength="48.04" lengthAdjust="spacingAndGlyphs">1,000</text>
<text x="1487.18" y="873.2" font-size="18.3" fill="#131722" stroke="#131722" stroke-width="0.2" textLength="37.36" lengthAdjust="spacingAndGlyphs">800</text>
<text x="1487.18" y="951.5" font-size="18.3" fill="#131722" stroke="#131722" stroke-width="0.2" textLength="37.36" lengthAdjust="spacingAndGlyphs">600</text>
</g>
<path d="M1477.2,472.5 H1537 a4,4 0 0 1 4,4 V499.7 H1477.2 Z" fill="#6c3fc0"/>
<text x="1488.42" y="492.3" font-size="17.5" fill="#fff" textLength="42.96" lengthAdjust="spacingAndGlyphs">1,740</text>
<path d="M1422.1,500.6 H1474.8 V527.8 H1422.1 a4,4 0 0 1 -4,-4 V504.6 a4,4 0 0 1 4,-4 Z" fill="#000"/>
<text x="1426.00" y="520.5" font-size="17.5" fill="#fff" textLength="43.17" lengthAdjust="spacingAndGlyphs">ARCI</text>
<path d="M1477.2,500.6 H1538 a4,4 0 0 1 4,4 V523.8 a4,4 0 0 1 -4,4 H1477.2 Z" fill="#000"/>
<text x="1488.39" y="520.5" font-size="17.5" fill="#fff" textLength="44.42" lengthAdjust="spacingAndGlyphs">1,700</text>
<path d="M1477.2,92 H1516 a3.5,3.5 0 0 1 3.5,3.5 V120 H1477.2 Z" fill="#787b86"/>
<text x="1488.54" y="112.5" font-size="16.5" fill="#fff" textLength="21.44" lengthAdjust="spacingAndGlyphs">-9</text>
<path d="M1477.2,148 H1527 a3.5,3.5 0 0 1 3.5,3.5 V157 H1477.2 Z" fill="#178a17"/>
<path d="M1477.2,120 H1527 a3.5,3.5 0 0 1 3.5,3.5 V143.3 a3.5,3.5 0 0 1 -3.5,3.5 H1477.2 Z" fill="#000"/>
<text x="1488.76" y="140.5" font-size="18" fill="#fff" textLength="32.26" lengthAdjust="spacingAndGlyphs">-20</text>
<g clip-path="url(#cn)">
<rect x="20.0" y="1061.4" width="8" height="3.9" fill="#383b40"/>
<rect x="30.0" y="1061.7" width="8" height="1.6" fill="#a3a6a6"/>
<rect x="40.1" y="1061.4" width="8" height="5.2" fill="#383b40"/>
<rect x="50.1" y="1061.4" width="8" height="3.9" fill="#383b40"/>
<rect x="60.2" y="1061.7" width="8" height="1.6" fill="#a3a6a6"/>
<rect x="70.2" y="1061.7" width="8" height="1.6" fill="#a3a6a6"/>
<rect x="80.3" y="1061.4" width="8" height="3.9" fill="#383b40"/>
<rect x="90.3" y="1061.7" width="8" height="1.6" fill="#a3a6a6"/>
<rect x="100.4" y="1057.2" width="8" height="5.7" fill="#9b9c9d"/>
<rect x="110.4" y="1061.4" width="8" height="4.8" fill="#383b40"/>
<rect x="120.5" y="1061.4" width="8" height="5.2" fill="#383b40"/>
<rect x="130.5" y="1061.4" width="8" height="5.2" fill="#383b40"/>
<rect x="140.6" y="1061.4" width="8" height="5.2" fill="#383b40"/>
<rect x="150.6" y="1061.4" width="8" height="3.3" fill="#383b40"/>
<rect x="160.6" y="1060.6" width="8" height="2.3" fill="#9b9c9d"/>
<rect x="170.7" y="1056.9" width="8" height="6.0" fill="#9b9c9d"/>
<rect x="180.7" y="1061.4" width="8" height="3.3" fill="#383b40"/>
<rect x="190.8" y="1061.4" width="8" height="4.5" fill="#383b40"/>
<rect x="200.8" y="1061.7" width="8" height="1.6" fill="#a3a6a6"/>
<rect x="210.9" y="1058.8" width="8" height="4.2" fill="#9b9c9d"/>
<rect x="220.9" y="1061.4" width="8" height="24.0" fill="#383b40"/>
<rect x="231.0" y="1061.4" width="8" height="10.5" fill="#383b40"/>
<rect x="241.0" y="1061.4" width="8" height="8.2" fill="#383b40"/>
<rect x="251.1" y="1061.4" width="8" height="5.2" fill="#383b40"/>
<rect x="261.1" y="1061.7" width="8" height="1.6" fill="#a3a6a6"/>
<rect x="271.1" y="1061.4" width="8" height="3.3" fill="#383b40"/>
<rect x="281.2" y="1056.0" width="8" height="6.9" fill="#9b9c9d"/>
<rect x="291.2" y="1061.4" width="8" height="5.2" fill="#383b40"/>
<rect x="301.3" y="1061.4" width="8" height="4.5" fill="#383b40"/>
<rect x="311.3" y="1056.5" width="8" height="6.4" fill="#9b9c9d"/>
<rect x="321.4" y="1061.0" width="8" height="1.9" fill="#9b9c9d"/>
<rect x="331.4" y="1061.4" width="8" height="11.4" fill="#383b40"/>
<rect x="341.5" y="1061.7" width="8" height="1.6" fill="#a3a6a6"/>
<rect x="351.5" y="1061.4" width="8" height="22.1" fill="#383b40"/>
<rect x="361.6" y="1061.7" width="8" height="1.6" fill="#a3a6a6"/>
<rect x="371.6" y="1061.4" width="8" height="8.2" fill="#383b40"/>
<rect x="381.7" y="1061.7" width="8" height="1.6" fill="#a3a6a6"/>
<rect x="391.7" y="1061.4" width="8" height="3.0" fill="#383b40"/>
<rect x="401.7" y="1061.7" width="8" height="1.6" fill="#a3a6a6"/>
<rect x="411.8" y="1061.7" width="8" height="1.6" fill="#a3a6a6"/>
<rect x="421.8" y="1061.7" width="8" height="1.6" fill="#a3a6a6"/>
<rect x="431.9" y="1061.4" width="8" height="5.2" fill="#383b40"/>
<rect x="441.9" y="1061.4" width="8" height="8.2" fill="#383b40"/>
<rect x="452.0" y="1061.4" width="8" height="4.5" fill="#383b40"/>
<rect x="462.0" y="1061.7" width="8" height="1.6" fill="#a3a6a6"/>
<rect x="472.1" y="1061.4" width="8" height="5.2" fill="#383b40"/>
<rect x="482.1" y="1061.4" width="8" height="3.9" fill="#383b40"/>
<rect x="492.2" y="1061.4" width="8" height="3.0" fill="#383b40"/>
<rect x="502.2" y="1061.4" width="8" height="4.5" fill="#383b40"/>
<rect x="512.3" y="1059.7" width="8" height="3.2" fill="#9b9c9d"/>
<rect x="522.3" y="1061.4" width="8" height="5.2" fill="#383b40"/>
<rect x="532.3" y="1061.7" width="8" height="1.6" fill="#a3a6a6"/>
<rect x="542.4" y="1061.7" width="8" height="1.6" fill="#a3a6a6"/>
<rect x="552.4" y="1061.4" width="8" height="3.0" fill="#383b40"/>
<rect x="562.5" y="1061.4" width="8" height="3.0" fill="#383b40"/>
<rect x="572.5" y="1061.4" width="8" height="4.5" fill="#383b40"/>
<rect x="582.6" y="1061.4" width="8" height="4.5" fill="#383b40"/>
<rect x="592.6" y="1061.4" width="8" height="3.9" fill="#383b40"/>
<rect x="602.7" y="1061.4" width="8" height="3.3" fill="#383b40"/>
<rect x="612.7" y="1061.7" width="8" height="1.6" fill="#a3a6a6"/>
<rect x="622.8" y="1061.7" width="8" height="1.6" fill="#a3a6a6"/>
<rect x="632.8" y="1061.0" width="8" height="1.9" fill="#9b9c9d"/>
<rect x="642.9" y="1061.4" width="8" height="3.3" fill="#383b40"/>
<rect x="652.9" y="1061.7" width="8" height="1.6" fill="#a3a6a6"/>
<rect x="662.9" y="1060.6" width="8" height="2.3" fill="#9b9c9d"/>
<rect x="673.0" y="1061.4" width="8" height="4.5" fill="#383b40"/>
<rect x="683.0" y="1061.4" width="8" height="3.3" fill="#383b40"/>
<rect x="693.1" y="1061.7" width="8" height="1.6" fill="#a3a6a6"/>
<rect x="703.1" y="1058.8" width="8" height="4.2" fill="#9b9c9d"/>
<rect x="713.2" y="1058.8" width="8" height="4.2" fill="#9b9c9d"/>
<rect x="723.2" y="1061.4" width="8" height="10.1" fill="#383b40"/>
<rect x="733.3" y="1061.7" width="8" height="1.6" fill="#a3a6a6"/>
<rect x="743.3" y="1061.7" width="8" height="1.6" fill="#a3a6a6"/>
<rect x="753.4" y="1038.5" width="8" height="24.4" fill="#9b9c9d"/>
<rect x="763.4" y="1061.4" width="8" height="10.1" fill="#383b40"/>
<rect x="773.4" y="1060.2" width="8" height="2.7" fill="#9b9c9d"/>
<rect x="783.5" y="1061.4" width="8" height="6.3" fill="#383b40"/>
<rect x="793.5" y="1061.4" width="8" height="4.5" fill="#383b40"/>
<rect x="803.6" y="1061.7" width="8" height="1.6" fill="#a3a6a6"/>
<rect x="813.6" y="1061.4" width="8" height="3.3" fill="#383b40"/>
<rect x="823.7" y="1061.4" width="8" height="6.3" fill="#383b40"/>
<rect x="833.7" y="1061.4" width="8" height="3.3" fill="#383b40"/>
<rect x="843.8" y="1056.0" width="8" height="6.9" fill="#9b9c9d"/>
<rect x="853.8" y="1061.4" width="8" height="10.5" fill="#383b40"/>
<rect x="863.9" y="1061.4" width="8" height="3.3" fill="#383b40"/>
<rect x="873.9" y="1061.7" width="8" height="1.6" fill="#a3a6a6"/>
<rect x="884.0" y="1061.4" width="8" height="3.9" fill="#383b40"/>
<rect x="894.0" y="1061.7" width="8" height="1.6" fill="#a3a6a6"/>
<rect x="904.0" y="1061.7" width="8" height="1.6" fill="#a3a6a6"/>
<rect x="914.1" y="1058.4" width="8" height="4.5" fill="#9b9c9d"/>
<rect x="924.1" y="1060.6" width="8" height="2.3" fill="#9b9c9d"/>
<rect x="934.2" y="1061.7" width="8" height="1.6" fill="#a3a6a6"/>
<rect x="944.2" y="1024.6" width="8" height="38.3" fill="#9b9c9d"/>
<rect x="954.3" y="1061.4" width="8" height="12.3" fill="#383b40"/>
<rect x="964.3" y="1061.4" width="8" height="14.2" fill="#383b40"/>
<rect x="974.4" y="1061.7" width="8" height="1.6" fill="#a3a6a6"/>
<rect x="984.4" y="1061.4" width="8" height="6.3" fill="#383b40"/>
<rect x="994.5" y="1061.4" width="8" height="9.5" fill="#383b40"/>
<rect x="1004.5" y="1061.4" width="8" height="7.1" fill="#383b40"/>
<rect x="1014.6" y="1044.1" width="8" height="18.8" fill="#9b9c9d"/>
<rect x="1024.6" y="1061.4" width="8" height="9.0" fill="#383b40"/>
<rect x="1034.6" y="1061.4" width="8" height="7.1" fill="#383b40"/>
<rect x="1044.7" y="1061.4" width="8" height="5.2" fill="#383b40"/>
<rect x="1054.7" y="1061.4" width="8" height="7.1" fill="#383b40"/>
<rect x="1064.8" y="1055.9" width="8" height="7.0" fill="#9b9c9d"/>
<rect x="1074.8" y="1061.4" width="8" height="5.2" fill="#383b40"/>
<rect x="1084.9" y="1061.4" width="8" height="8.2" fill="#383b40"/>
<rect x="1094.9" y="1061.4" width="8" height="7.1" fill="#383b40"/>
<rect x="1105.0" y="1061.7" width="8" height="1.6" fill="#a3a6a6"/>
<rect x="1115.0" y="1061.0" width="8" height="1.9" fill="#9b9c9d"/>
<rect x="1125.1" y="1061.4" width="8" height="4.5" fill="#383b40"/>
<rect x="1135.1" y="1061.7" width="8" height="1.6" fill="#a3a6a6"/>
<rect x="1145.2" y="1061.4" width="8" height="3.3" fill="#383b40"/>
<rect x="1155.2" y="1061.4" width="8" height="4.5" fill="#383b40"/>
</g>
<text x="28.92" y="1043.1" font-size="18.3" fill="#131722" stroke="#131722" stroke-width="0.2" textLength="191.47" lengthAdjust="spacingAndGlyphs">Net Foreign Buy / Sell</text>
<path d="M1477.1,1052 H1561 a4,4 0 0 1 4,4 V1075.7 a4,4 0 0 1 -4,4 H1477.1 Z" fill="#000"/>
<text x="1488.77" y="1072.4" font-size="17.5" fill="#fff" textLength="68.43" lengthAdjust="spacingAndGlyphs">-23.15 B</text>
<svg x="0" y="1008.5" width="1600" height="100" overflow="hidden"><g transform="translate(0,-1008.5)"><text x="1488.23" y="1019" font-size="18.3" fill="#131722" stroke="#131722" stroke-width="0.2" textLength="51.31" lengthAdjust="spacingAndGlyphs">500 B</text></g></svg>
<g clip-path="url(#cv)">
<rect x="10.0" y="1148.4" width="8" height="7.4" fill="#383b40"/>
<rect x="20.0" y="1142.8" width="8" height="13.0" fill="#9b9c9d"/>
<rect x="30.0" y="1138.4" width="8" height="17.4" fill="#9b9c9d"/>
<rect x="40.1" y="1136.6" width="8" height="19.2" fill="#9b9c9d"/>
<rect x="50.1" y="1149.1" width="8" height="6.7" fill="#383b40"/>
<rect x="60.2" y="1146.0" width="8" height="9.8" fill="#9b9c9d"/>
<rect x="70.2" y="1144.0" width="8" height="11.8" fill="#9b9c9d"/>
<rect x="80.3" y="1151.0" width="8" height="4.8" fill="#383b40"/>
<rect x="90.3" y="1151.0" width="8" height="4.8" fill="#383b40"/>
<rect x="100.4" y="1147.8" width="8" height="8.0" fill="#9b9c9d"/>
<rect x="110.4" y="1152.1" width="8" height="3.7" fill="#383b40"/>
<rect x="120.5" y="1150.2" width="8" height="5.5" fill="#383b40"/>
<rect x="130.5" y="1150.2" width="8" height="5.5" fill="#383b40"/>
<rect x="140.6" y="1152.1" width="8" height="3.7" fill="#383b40"/>
<rect x="150.6" y="1153.4" width="8" height="2.4" fill="#383b40"/>
<rect x="160.6" y="1149.1" width="8" height="6.7" fill="#9b9c9d"/>
<rect x="170.7" y="1143.5" width="8" height="12.3" fill="#9b9c9d"/>
<rect x="180.7" y="1149.1" width="8" height="6.7" fill="#383b40"/>
<rect x="190.8" y="1149.1" width="8" height="6.7" fill="#383b40"/>
<rect x="200.8" y="1152.5" width="8" height="3.3" fill="#9b9c9d"/>
<rect x="210.9" y="1146.9" width="8" height="8.9" fill="#9b9c9d"/>
<rect x="220.9" y="1132.8" width="8" height="23.0" fill="#383b40"/>
<rect x="231.0" y="1146.0" width="8" height="9.8" fill="#9b9c9d"/>
<rect x="241.0" y="1146.0" width="8" height="9.8" fill="#383b40"/>
<rect x="251.1" y="1149.1" width="8" height="6.7" fill="#383b40"/>
<rect x="261.1" y="1132.8" width="8" height="23.0" fill="#9b9c9d"/>
<rect x="271.1" y="1145.0" width="8" height="10.8" fill="#383b40"/>
<rect x="281.2" y="1136.0" width="8" height="19.8" fill="#9b9c9d"/>
<rect x="291.2" y="1146.9" width="8" height="8.9" fill="#383b40"/>
<rect x="301.3" y="1148.4" width="8" height="7.4" fill="#9b9c9d"/>
<rect x="311.3" y="1130.0" width="8" height="25.8" fill="#9b9c9d"/>
<rect x="321.4" y="1122.1" width="8" height="33.7" fill="#9b9c9d"/>
<rect x="331.4" y="1134.7" width="8" height="21.1" fill="#383b40"/>
<rect x="341.5" y="1142.2" width="8" height="13.6" fill="#9b9c9d"/>
<rect x="351.5" y="1130.0" width="8" height="25.8" fill="#383b40"/>
<rect x="361.6" y="1144.0" width="8" height="11.8" fill="#383b40"/>
<rect x="371.6" y="1145.0" width="8" height="10.8" fill="#383b40"/>
<rect x="381.7" y="1139.4" width="8" height="16.4" fill="#9b9c9d"/>
<rect x="391.7" y="1148.8" width="8" height="7.0" fill="#383b40"/>
<rect x="401.7" y="1149.1" width="8" height="6.7" fill="#383b40"/>
<rect x="411.8" y="1151.0" width="8" height="4.8" fill="#383b40"/>
<rect x="421.8" y="1148.4" width="8" height="7.4" fill="#383b40"/>
<rect x="431.9" y="1145.0" width="8" height="10.8" fill="#9b9c9d"/>
<rect x="441.9" y="1146.9" width="8" height="8.9" fill="#383b40"/>
<rect x="452.0" y="1151.0" width="8" height="4.8" fill="#383b40"/>
<rect x="462.0" y="1151.0" width="8" height="4.8" fill="#9b9c9d"/>
<rect x="472.1" y="1151.0" width="8" height="4.8" fill="#383b40"/>
<rect x="482.1" y="1147.8" width="8" height="8.0" fill="#9b9c9d"/>
<rect x="492.2" y="1149.1" width="8" height="6.7" fill="#9b9c9d"/>
<rect x="502.2" y="1152.9" width="8" height="2.9" fill="#383b40"/>
<rect x="512.3" y="1142.2" width="8" height="13.6" fill="#9b9c9d"/>
<rect x="522.3" y="1144.0" width="8" height="11.8" fill="#383b40"/>
<rect x="532.3" y="1152.1" width="8" height="3.7" fill="#383b40"/>
<rect x="542.4" y="1146.9" width="8" height="8.9" fill="#9b9c9d"/>
<rect x="552.4" y="1149.1" width="8" height="6.7" fill="#383b40"/>
<rect x="562.5" y="1146.0" width="8" height="9.8" fill="#383b40"/>
<rect x="572.5" y="1149.1" width="8" height="6.7" fill="#383b40"/>
<rect x="582.6" y="1151.0" width="8" height="4.8" fill="#9b9c9d"/>
<rect x="592.6" y="1152.9" width="8" height="2.9" fill="#383b40"/>
<rect x="602.7" y="1152.9" width="8" height="2.9" fill="#383b40"/>
<rect x="612.7" y="1152.5" width="8" height="3.3" fill="#9b9c9d"/>
<rect x="622.8" y="1152.5" width="8" height="3.3" fill="#9b9c9d"/>
<rect x="632.8" y="1148.8" width="8" height="7.0" fill="#9b9c9d"/>
<rect x="642.9" y="1151.0" width="8" height="4.8" fill="#383b40"/>
<rect x="652.9" y="1149.7" width="8" height="6.1" fill="#383b40"/>
<rect x="662.9" y="1144.0" width="8" height="11.8" fill="#9b9c9d"/>
<rect x="673.0" y="1149.7" width="8" height="6.1" fill="#383b40"/>
<rect x="683.0" y="1151.0" width="8" height="4.8" fill="#383b40"/>
<rect x="693.1" y="1152.1" width="8" height="3.7" fill="#383b40"/>
<rect x="703.1" y="1151.0" width="8" height="4.8" fill="#9b9c9d"/>
<rect x="713.2" y="1136.0" width="8" height="19.8" fill="#9b9c9d"/>
<rect x="723.2" y="1145.0" width="8" height="10.8" fill="#383b40"/>
<rect x="733.3" y="1144.0" width="8" height="11.8" fill="#9b9c9d"/>
<rect x="743.3" y="1147.8" width="8" height="8.0" fill="#383b40"/>
<rect x="753.4" y="1113.1" width="8" height="42.7" fill="#9b9c9d"/>
<rect x="763.4" y="1131.9" width="8" height="23.9" fill="#383b40"/>
<rect x="773.4" y="1145.0" width="8" height="10.8" fill="#383b40"/>
<rect x="783.5" y="1145.0" width="8" height="10.8" fill="#383b40"/>
<rect x="793.5" y="1152.1" width="8" height="3.7" fill="#383b40"/>
<rect x="803.6" y="1149.7" width="8" height="6.1" fill="#383b40"/>
<rect x="813.6" y="1143.1" width="8" height="12.7" fill="#9b9c9d"/>
<rect x="823.7" y="1143.5" width="8" height="12.3" fill="#383b40"/>
<rect x="833.7" y="1142.2" width="8" height="13.6" fill="#383b40"/>
<rect x="843.8" y="1144.0" width="8" height="11.8" fill="#9b9c9d"/>
<rect x="853.8" y="1143.5" width="8" height="12.3" fill="#9b9c9d"/>
<rect x="863.9" y="1151.0" width="8" height="4.8" fill="#9b9c9d"/>
<rect x="873.9" y="1142.8" width="8" height="13.0" fill="#9b9c9d"/>
<rect x="884.0" y="1148.8" width="8" height="7.0" fill="#383b40"/>
<rect x="894.0" y="1144.0" width="8" height="11.8" fill="#383b40"/>
<rect x="904.0" y="1147.8" width="8" height="8.0" fill="#383b40"/>
<rect x="914.1" y="1146.9" width="8" height="8.9" fill="#9b9c9d"/>
<rect x="924.1" y="1131.0" width="8" height="24.8" fill="#383b40"/>
<rect x="934.2" y="1147.8" width="8" height="8.0" fill="#383b40"/>
<rect x="944.2" y="1117.2" width="8" height="38.5" fill="#9b9c9d"/>
<rect x="954.3" y="1144.0" width="8" height="11.8" fill="#383b40"/>
<rect x="964.3" y="1146.0" width="8" height="9.8" fill="#383b40"/>
<rect x="974.4" y="1137.1" width="8" height="18.7" fill="#9b9c9d"/>
<rect x="984.4" y="1137.1" width="8" height="18.7" fill="#383b40"/>
<rect x="994.5" y="1146.0" width="8" height="9.8" fill="#383b40"/>
<rect x="1004.5" y="1145.0" width="8" height="10.8" fill="#383b40"/>
<rect x="1014.6" y="1137.1" width="8" height="18.7" fill="#9b9c9d"/>
<rect x="1024.6" y="1148.8" width="8" height="7.0" fill="#383b40"/>
<rect x="1034.6" y="1135.2" width="8" height="20.5" fill="#383b40"/>
<rect x="1044.7" y="1131.9" width="8" height="23.9" fill="#383b40"/>
<rect x="1054.7" y="1139.8" width="8" height="16.0" fill="#383b40"/>
<rect x="1064.8" y="1143.5" width="8" height="12.3" fill="#383b40"/>
<rect x="1074.8" y="1142.2" width="8" height="13.6" fill="#9b9c9d"/>
<rect x="1084.9" y="1147.8" width="8" height="8.0" fill="#383b40"/>
<rect x="1094.9" y="1149.1" width="8" height="6.7" fill="#383b40"/>
<rect x="1105.0" y="1149.1" width="8" height="6.7" fill="#9b9c9d"/>
<rect x="1115.0" y="1149.1" width="8" height="6.7" fill="#9b9c9d"/>
<rect x="1125.1" y="1150.2" width="8" height="5.5" fill="#9b9c9d"/>
<rect x="1135.1" y="1151.0" width="8" height="4.8" fill="#9b9c9d"/>
<rect x="1145.2" y="1149.1" width="8" height="6.7" fill="#9b9c9d"/>
<rect x="1155.2" y="1149.1" width="8" height="6.7" fill="#9b9c9d"/>
</g>
<text x="30.00" y="1136.8" font-size="18.3" fill="#131722" stroke="#131722" stroke-width="0.2" textLength="105.12" lengthAdjust="spacingAndGlyphs">Volume (20)</text>
<path d="M1477.1,1135.3 H1561 a4,4 0 0 1 4,4 V1159 a4,4 0 0 1 -4,4 H1477.1 Z" fill="#878787"/>
<text x="1487.80" y="1155.8" font-size="17.5" fill="#fff" textLength="69.56" lengthAdjust="spacingAndGlyphs">96.53 M</text>
<svg x="16.5" y="1168" width="1567" height="44" overflow="hidden">
<g transform="translate(-16.5,-1168)">
<text x="5" y="1196.3" font-size="18.3" fill="#131722" textLength="36" lengthAdjust="spacingAndGlyphs">Sep</text>
<text x="218.37" y="1196.3" font-size="18.3" fill="#131722" stroke="#131722" stroke-width="0.2" textLength="32.14" lengthAdjust="spacingAndGlyphs">Oct</text>
<text x="448.01" y="1196.3" font-size="18.3" fill="#131722" stroke="#131722" stroke-width="0.2" textLength="35.45" lengthAdjust="spacingAndGlyphs">Nov</text>
<text x="648.64" y="1196.3" font-size="18.3" fill="#131722" stroke="#131722" stroke-width="0.2" textLength="36.03" lengthAdjust="spacingAndGlyphs">Dec</text>
<text x="842.53" y="1196.3" font-size="18.3" font-weight="bold" fill="#131722" textLength="49.54" lengthAdjust="spacingAndGlyphs">2026</text>
<text x="1051.44" y="1196.3" font-size="18.3" fill="#131722" stroke="#131722" stroke-width="0.2" textLength="33.51" lengthAdjust="spacingAndGlyphs">Feb</text>
<text x="1252.97" y="1196.3" font-size="18.3" fill="#131722" stroke="#131722" stroke-width="0.2" textLength="32.50" lengthAdjust="spacingAndGlyphs">Mar</text>
</g>
</svg>
<line x1="16.5" y1="157.6" x2="1583.5" y2="157.6" stroke="#1f2428" stroke-width="1.6"/>
<line x1="16.5" y1="1007.7" x2="1583.5" y2="1007.7" stroke="#1f2428" stroke-width="1.6"/>
<line x1="16.5" y1="1101.8" x2="1583.5" y2="1101.8" stroke="#1f2428" stroke-width="1.6"/>
<g fill="#131722"><path d="M16.6,1232.6 H29.7 V1247.7 H22.75 V1238.5 H16.6 Z"/><circle cx="35.3" cy="1235.5" r="3.2"/><path d="M40.8,1232.6 H48 L42.4,1247.7 H35 Z"/></g>
<text x="55.20" y="1247" font-size="20" fill="#131722" stroke="#131722" stroke-width="0.2" textLength="114.87" lengthAdjust="spacingAndGlyphs">TradingView</text>
</svg></body></html>
